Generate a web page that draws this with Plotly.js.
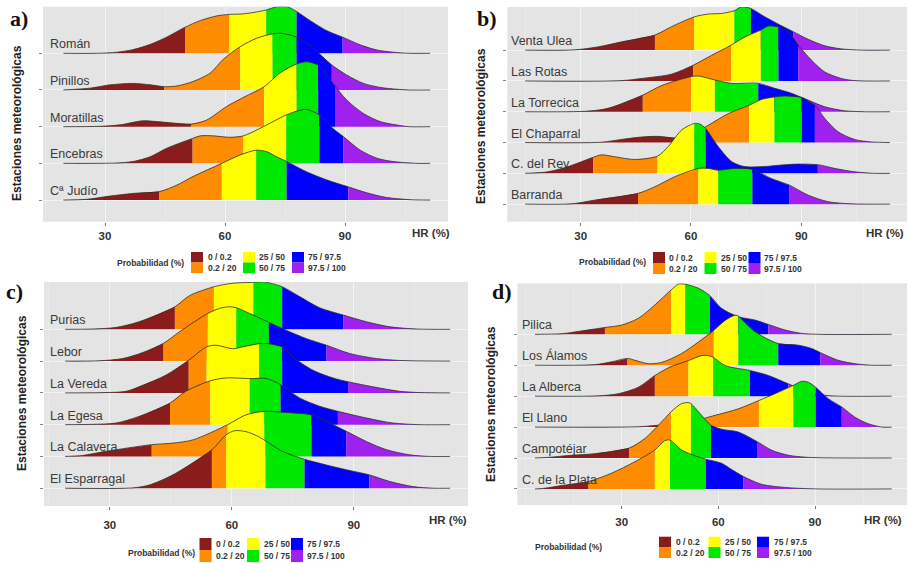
<!DOCTYPE html>
<html><head><meta charset="utf-8">
<script src="https://cdn.plot.ly/plotly-3.0.1.min.js"></script>
<style>html,body{margin:0;padding:0;background:#fff}#chart{width:909px;height:563px}</style>
</head><body><div id="chart"></div><script>
// ---------------- DATA ----------------
// Probability bands and colours
const bandLabels = ['0 / 0.2','0.2 / 20','25 / 50','50 / 75','75 / 97.5','97.5 / 100'];
const bandColors = ['#8B1C1C','#FF8C00','#FFFF00','#00E800','#0000FF','#A020F0'];
const xTickVals = [30, 60, 90];
const xMinorVals = [0, 15, 45, 75, 105];

// Panel a)
const namesA = ['Román','Pinillos','Moratillas','Encebras','Cª Judío'];
const xA = [
  [19.6,28,33,37,41,45.4,50,53.8,58,61.1,64,67,70.3,73,75.5,77.9,81.3,85.4,89.4,93.8,98,102,106,111.3],
  [19.6,26.3,31.3,37,41.3,44.8,48,52,56.3,59.5,63.8,67.9,71.9,73.8,77.9,82,86.7,90.4,94.6,98.8,103,106,111.3],
  [19.6,28.8,33.8,39.4,42.8,47,51.5,55.4,60.4,65,69.8,73.8,77.9,80.4,83.3,85.4,87.5,90.4,94.6,98.8,103.8,106,111.3],
  [19.6,32.9,37,41.3,45.4,51.9,53.8,57,61.3,64.6,69.6,75.3,78.8,80.4,83.6,87,89.6,93.8,98,102,108,111.3],
  [19.6,25.4,31.3,37,43.6,48,52,59.2,63.8,67.8,70.4,72.9,75.4,80.4,85.4,90.8,95.4,100.4,106.3,111.3]
];
const hA = [
  [0,0,0.03,0.1,0.23,0.44,0.71,0.89,1.02,1.06,1.07,1.11,1.18,1.27,1.27,1.14,0.89,0.62,0.44,0.23,0.09,0.03,0,0],
  [0,0.05,0.14,0.18,0.14,0.09,0.11,0.23,0.46,0.83,1.18,1.41,1.53,1.55,1.44,1.14,0.68,0.41,0.18,0.07,0.02,0,0],
  [0,0.01,0.05,0.16,0.14,0.1,0.07,0.18,0.55,0.82,1.09,1.47,1.71,1.77,1.68,1.41,1.11,0.73,0.36,0.14,0.03,0,0],
  [0,0.01,0.05,0.18,0.41,0.68,0.75,0.75,0.71,0.75,1.0,1.32,1.45,1.47,1.32,0.95,0.73,0.36,0.14,0.05,0,0],
  [0,0.02,0.11,0.18,0.23,0.41,0.64,1.0,1.23,1.36,1.32,1.18,1.05,0.77,0.55,0.36,0.2,0.07,0.01,0]
];
const qA = [
  [50,61.1,70.3,77.9,89.4],
  [44.8,63.8,71.9,77.9,86.7],
  [51.5,69.8,77.9,83.3,87.5],
  [51.9,64.6,75.3,83.6,89.6],
  [43.6,59.2,67.8,75.4,90.8]
];

// Panel b)
const namesB = ['Venta Ulea','Las Rotas','La Torrecica','El Chaparral','C. del Rey','Barranda'];
const xB = [
  [14.9,28.5,34.9,41.2,50.2,54.7,60.9,64.7,68.3,71.8,73.8,76.3,80.1,83.8,87.8,91.9,96.4,100.9,106.4,114.1],
  [14.9,41.2,46.6,54.7,60.6,65.6,70.9,74.7,79,81,83.8,86.5,89.2,92.8,96.4,100.9,104.5,114.1],
  [14.9,32,37.4,46.9,52,60,62,66.5,71,78.3,82.8,87.3,91.8,96.4,101.8,107.2,114.1],
  [14.9,35.6,41.1,46.6,51,55.6,59.3,64.7,70.2,75.8,79.2,82.7,85.6,90.1,93.7,96.4,100,104.5,109,114.1],
  [14.9,21.1,26.6,33.4,35.6,39.2,44.7,50.9,53.8,57.5,60.9,62.4,64,67.4,71.1,74.6,80,84.6,89.1,94.5,99.1,104.5,110,114.1],
  [14.9,27.5,33.8,45.6,50.1,55.6,62,64.7,67.4,71.9,76.7,81.9,86.7,91.9,97.3,103.6,114.1]
];
const hB = [
  [0,0.01,0.11,0.27,0.49,0.76,1.08,1.17,1.19,1.28,1.41,1.35,1.08,0.84,0.6,0.35,0.14,0.04,0,0],
  [0,0.01,0.08,0.22,0.51,0.83,1.16,1.43,1.65,1.78,1.75,1.59,1.16,0.67,0.29,0.08,0.01,0],
  [0,0.02,0.11,0.54,0.85,1.14,1.16,1.03,0.92,0.92,0.76,0.6,0.38,0.16,0.03,0,0],
  [0,0.01,0.1,0.18,0.2,0.15,0.2,0.56,0.94,1.21,1.4,1.48,1.51,1.46,1.21,0.78,0.35,0.1,0.02,0],
  [0,0.05,0.22,0.52,0.6,0.54,0.45,0.56,0.87,1.41,1.62,1.6,1.46,0.87,0.38,0.22,0.22,0.27,0.3,0.28,0.16,0.05,0,0],
  [0,0.01,0.13,0.35,0.56,0.89,1.16,1.16,1.1,1.16,1.13,0.83,0.62,0.29,0.08,0.01,0]
];
const qB = [
  [50.2,60.9,71.8,76.3,87.8],
  [60.6,70.9,79,83.8,89.2],
  [46.9,60,66.5,78.3,91.8],
  [55.6,75.8,82.7,90.1,93.7],
  [33.4,50.9,60.9,64,94.5],
  [45.6,62,67.4,76.7,86.7]
];

// Panel c)
const namesC = ['Purias','Lebor','La Vereda','La Egesa','La Calavera','El Esparragal'];
const xC = [
  [19,25.7,31.5,37.2,46,49.6,55.6,60.2,65.3,67.6,72.4,76.7,81.6,87.4,93.1,98.9,105.4,113.7],
  [19,27.4,33.1,38.1,43.2,47.1,54.1,57,59.4,61.1,64.4,69.1,73.4,78.3,83.3,89,95.6,101.3,113.7],
  [19,29,34,38.1,43.8,49.4,53.8,56.1,60.2,62.7,66.7,68.9,72.4,75,80,84.9,88.6,94.8,101.3,106.3,113.7],
  [19,25.7,31.5,37.2,44.8,48.7,54.7,58.6,64.4,68.5,72,76.7,81.6,86.1,93.1,99.7,106.3,113.7],
  [19,23.3,29,40.3,45.5,50.4,59,63.5,68,72.6,79.6,84.1,88.2,93.1,98.1,103.8,108.7,113.7],
  [19,35.6,39.7,45.5,55.1,58.6,60.7,63.5,66,68.3,72.6,77.9,83.3,88.2,93.8,98.9,104.6,109.5,113.7]
];
const hC = [
  [0,0.01,0.06,0.24,0.71,1.06,1.34,1.45,1.48,1.5,1.34,1.03,0.68,0.45,0.24,0.08,0.01,0],
  [0,0.01,0.08,0.27,0.56,0.92,1.5,1.66,1.71,1.68,1.5,1.22,0.97,0.71,0.5,0.24,0.08,0.02,0],
  [0,0.01,0.05,0.24,0.56,1.03,1.45,1.5,1.39,1.45,1.55,1.55,1.45,1.13,0.71,0.47,0.35,0.19,0.05,0.01,0],
  [0,0.01,0.05,0.26,0.68,1.05,1.38,1.47,1.45,1.45,1.26,0.84,0.58,0.42,0.21,0.05,0,0],
  [0,0.03,0.16,0.37,0.42,0.52,1.0,1.31,1.42,1.39,1.31,1.05,0.79,0.47,0.21,0.05,0,0],
  [0,0.01,0.1,0.42,1.21,1.68,1.81,1.78,1.66,1.49,1.15,0.91,0.73,0.58,0.42,0.21,0.05,0,0]
];
const qC = [
  [46,55.6,65.3,72.4,87.4],
  [43.2,54.1,61.1,69.1,83.3],
  [49.4,53.8,66.7,72.4,88.6],
  [44.8,54.7,64.4,72,86.1],
  [40.3,59,68,79.6,88.2],
  [55.1,58.6,68.3,77.9,93.8]
];

// Panel d)
const namesD = ['Pilica','Los Álamos','La Alberca','El Llano','Campotéjar','C. de la Plata'];
const xD = [
  [3.1,11.4,17.6,24.8,30,35.2,40.3,45.3,47.6,49.7,53.8,57.4,61,66.2,71.4,75.5,80.7,85.9,91,113.8],
  [3.1,21.7,26.9,31.8,34.1,38.3,42.4,48.6,53.8,58.6,62.1,65.2,66.2,71.4,78.6,84.8,89,91.6,97.2,102.4,107.6,113.8],
  [3.1,22.8,29,35.2,40.3,45,50.7,54.8,56.9,58.4,62.1,69.8,75.5,81.7,86.9,92.1,97.2,113.8],
  [3.1,35.2,40.3,45,50.7,59,66.2,72.6,77.6,83.3,85.9,87.9,90.2,94.1,98.3,102.4,106.5,110.7,113.8],
  [3.1,7.2,14.5,21.7,32.3,37.2,41.4,45.3,48.6,50.7,51.5,54.8,57.7,61,66.2,72.2,76.6,81.7,87.9,113.8],
  [3.1,5.2,11.4,19.7,26.9,34.1,40.3,43.4,45,48.6,52,56.1,61,64.4,67.8,73.4,81.7,91,113.8]
];
const hD = [
  [0,0.02,0.11,0.22,0.3,0.52,0.95,1.43,1.62,1.62,1.49,1.25,0.84,0.57,0.46,0.32,0.14,0.03,0,0],
  [0,0.02,0.11,0.22,0.16,0.05,0.09,0.38,0.75,1.13,1.45,1.62,1.59,1.08,0.7,0.65,0.54,0.41,0.16,0.05,0,0],
  [0,0.01,0.08,0.29,0.67,0.94,1.15,1.31,1.31,1.26,0.99,0.83,0.67,0.4,0.18,0.04,0,0],
  [0,0.01,0.05,0.1,0.16,0.38,0.59,0.86,1.08,1.35,1.48,1.45,1.29,0.92,0.65,0.32,0.11,0,0],
  [0,0.02,0.09,0.14,0.32,0.63,1.06,1.49,1.76,1.79,1.76,1.38,1.06,0.93,0.84,0.52,0.25,0.09,0.02,0],
  [0,0.01,0.11,0.24,0.51,0.88,1.26,1.56,1.58,1.26,1.1,0.96,0.83,0.61,0.4,0.15,0.04,0,0]
];
const qD = [
  [24.8,45.3,49.7,57.4,75.5],
  [31.8,58.6,66.2,78.6,91.6],
  [40.3,50.7,58.4,69.8,81.7],
  [45,72.6,83.3,90.2,98.3],
  [32.3,45.3,51.5,57.7,72.2],
  [19.7,40.3,45,56.1,67.8]
];

// ---------------- LAYOUT (pixel positions) ----------------
const W = 909, H = 563;
const px = v => v / W, py = v => 1 - v / H;
const FONT = 'Liberation Sans, Arial, sans-serif';

const panels = [
  {tag:'a)', names:namesA, xs:xA, hs:hA, qs:qA, box:[43,448,6.7,221.7], xr:[14.5,115.75], yr:[-0.59,5.27],
   labelX:15.8, tagPos:[19,18], yTitle:[17,123], hr:[431,233], stand:0,
   leg:{title:[150,263], cols:[191,243,292], rows:[252,262.5,273], tx:[206,257,306]}},
  {tag:'b)', names:namesB, xs:xB, hs:hB, qs:qB, box:[507.3,907,7,221.7], xr:[10.05,118.75], yr:[-0.57,6.4],
   labelX:10.4, tagPos:[487,18], yTitle:[481,126], hr:[885,233], stand:0,
   leg:{title:[612,262], cols:[653,704.5,748.5], rows:[252,263,274], tx:[667,719,762]}},
  {tag:'c)', names:namesC, xs:xC, hs:hC, qs:qC, box:[44,468,282,506], xr:[13.8,118.1], yr:[-0.56,6.49],
   labelX:14.9, tagPos:[15,291], yTitle:[22,393], hr:[448,520], stand:5,
   leg:{title:[161,553], cols:[199.5,247,291], rows:[538,550,562], tx:[214,262,305]}},
  {tag:'d)', names:namesD, xs:xD, hs:hD, qs:qD, box:[517.5,907,283.3,505], xr:[-2.33,118.55], yr:[-0.52,6.65],
   labelX:-1.55, tagPos:[502,291], yTitle:[491,404], hr:[883,520], stand:3,
   leg:{title:[568,547], cols:[659,708.5,757], rows:[536.7,547,558], tx:[674,723,772]}}
];

const traces = [];
const layout = {
  width: W, height: H, margin:{l:0,r:0,t:0,b:0},
  paper_bgcolor:'#ffffff', plot_bgcolor:'#E4E4E4',
  showlegend:false, annotations:[], shapes:[],
  font:{family:FONT}
};

panels.forEach((p, pi) => {
  const sfx = pi ? String(pi + 1) : '';
  const xa = 'x' + sfx, ya = 'y' + sfx;
  const n = p.names.length;
  const [l, r, t, b] = p.box;

  layout['xaxis' + sfx] = {
    domain:[px(l), px(r)], range:p.xr, anchor:ya,
    tickmode:'array', tickvals:xTickVals, ticks:'outside', ticklen:3, tickcolor:'#777',
    tickfont:{family:FONT, size:11.5, color:'#333', weight:'bold'},
    ticklabelstandoff:p.stand,
    showgrid:true, gridcolor:'rgba(255,255,255,0.55)', gridwidth:1, zeroline:false, showline:false,
    minor:{tickmode:'array', tickvals:xMinorVals, showgrid:true, gridcolor:'rgba(255,255,255,0.3)', gridwidth:0.6, ticks:''},
    fixedrange:true
  };
  layout['yaxis' + sfx] = {
    domain:[py(b), py(t)], range:p.yr, anchor:xa,
    tickmode:'array', tickvals:p.names.map((_, i) => i), showticklabels:false,
    ticks:'outside', ticklen:3, tickcolor:'#888',
    showgrid:true, gridcolor:'rgba(255,255,255,0.5)', gridwidth:1, zeroline:false, showline:false, fixedrange:true
  };

  // ridges: top ridge first so lower ridges are drawn in front
  p.names.forEach((name, i) => {
    const base = n - 1 - i;
    const xs = p.xs[i], hs = p.hs[i], q = p.qs[i];
    const edges = [xs[0], ...q, xs[xs.length - 1]];
    for (let k = 0; k < 6; k++) {
      const lo = edges[k], hi = edges[k + 1];
      const sx = [], sy = [];
      xs.forEach((x, j) => { if (x >= lo - 1e-9 && x <= hi + 1e-9) { sx.push(x); sy.push(base + hs[j]); } });
      traces.push({type:'scatter', x:[lo, hi], y:[base, base], xaxis:xa, yaxis:ya, mode:'lines',
        line:{width:0}, hoverinfo:'skip', showlegend:false});
      traces.push({type:'scatter', x:sx, y:sy, xaxis:xa, yaxis:ya, mode:'lines',
        line:{width:0, shape:'spline', smoothing:0.8}, fill:'tonexty', fillcolor:bandColors[k],
        hoverinfo:'skip', showlegend:false});
    }
    traces.push({type:'scatter', x:xs, y:hs.map(h => base + h), xaxis:xa, yaxis:ya, mode:'lines',
      line:{color:'#2e2e2e', width:0.8, shape:'spline', smoothing:0.8}, hoverinfo:'skip', showlegend:false});

    layout.annotations.push({xref:xa, yref:ya, x:p.labelX, y:base, xanchor:'left', yanchor:'bottom',
      text:name, showarrow:false, font:{family:FONT, size:12.5, color:'#3a3a3a'}, yshift:0});
  });

  // panel tag, y title, x title
  layout.annotations.push({xref:'paper', yref:'paper', x:px(p.tagPos[0]), y:py(p.tagPos[1]),
    xanchor:'center', yanchor:'middle', text:p.tag, showarrow:false,
    font:{family:'Liberation Serif, Times New Roman, serif', size:22, color:'#111', weight:'bold'}});
  layout.annotations.push({xref:'paper', yref:'paper', x:px(p.yTitle[0]), y:py(p.yTitle[1]),
    xanchor:'center', yanchor:'middle', text:'Estaciones meteorológicas', textangle:-90, showarrow:false,
    font:{family:FONT, size:12, color:'#222', weight:'bold'}});
  layout.annotations.push({xref:'paper', yref:'paper', x:px(p.hr[0]), y:py(p.hr[1]),
    xanchor:'center', yanchor:'middle', text:'HR (%)', showarrow:false,
    font:{family:FONT, size:11.5, color:'#333', weight:'bold'}});

  // legend
  const L = p.leg;
  layout.annotations.push({xref:'paper', yref:'paper', x:px(L.title[0]), y:py(L.title[1]),
    xanchor:'center', yanchor:'middle', text:'Probabilidad (%)', showarrow:false,
    font:{family:FONT, size:8.5, color:'#333', weight:'bold'}});
  bandLabels.forEach((lab, k) => {
    const c = Math.floor(k / 2), rr = k % 2;
    const x0 = L.cols[c], y0 = L.rows[rr], y1 = L.rows[rr + 1];
    layout.shapes.push({type:'rect', xref:'paper', yref:'paper', x0:px(x0), x1:px(x0 + 12),
      y0:py(y1), y1:py(y0), fillcolor:bandColors[k], line:{width:0}, layer:'above'});
    layout.annotations.push({xref:'paper', yref:'paper', x:px(L.tx[c]), y:py((y0 + y1) / 2),
      xanchor:'left', yanchor:'middle', text:lab, showarrow:false,
      font:{family:FONT, size:8.5, color:'#333', weight:'bold'}});
  });
});

Plotly.newPlot('chart', traces, layout, {staticPlot:true, displayModeBar:false});
</script></body></html>
